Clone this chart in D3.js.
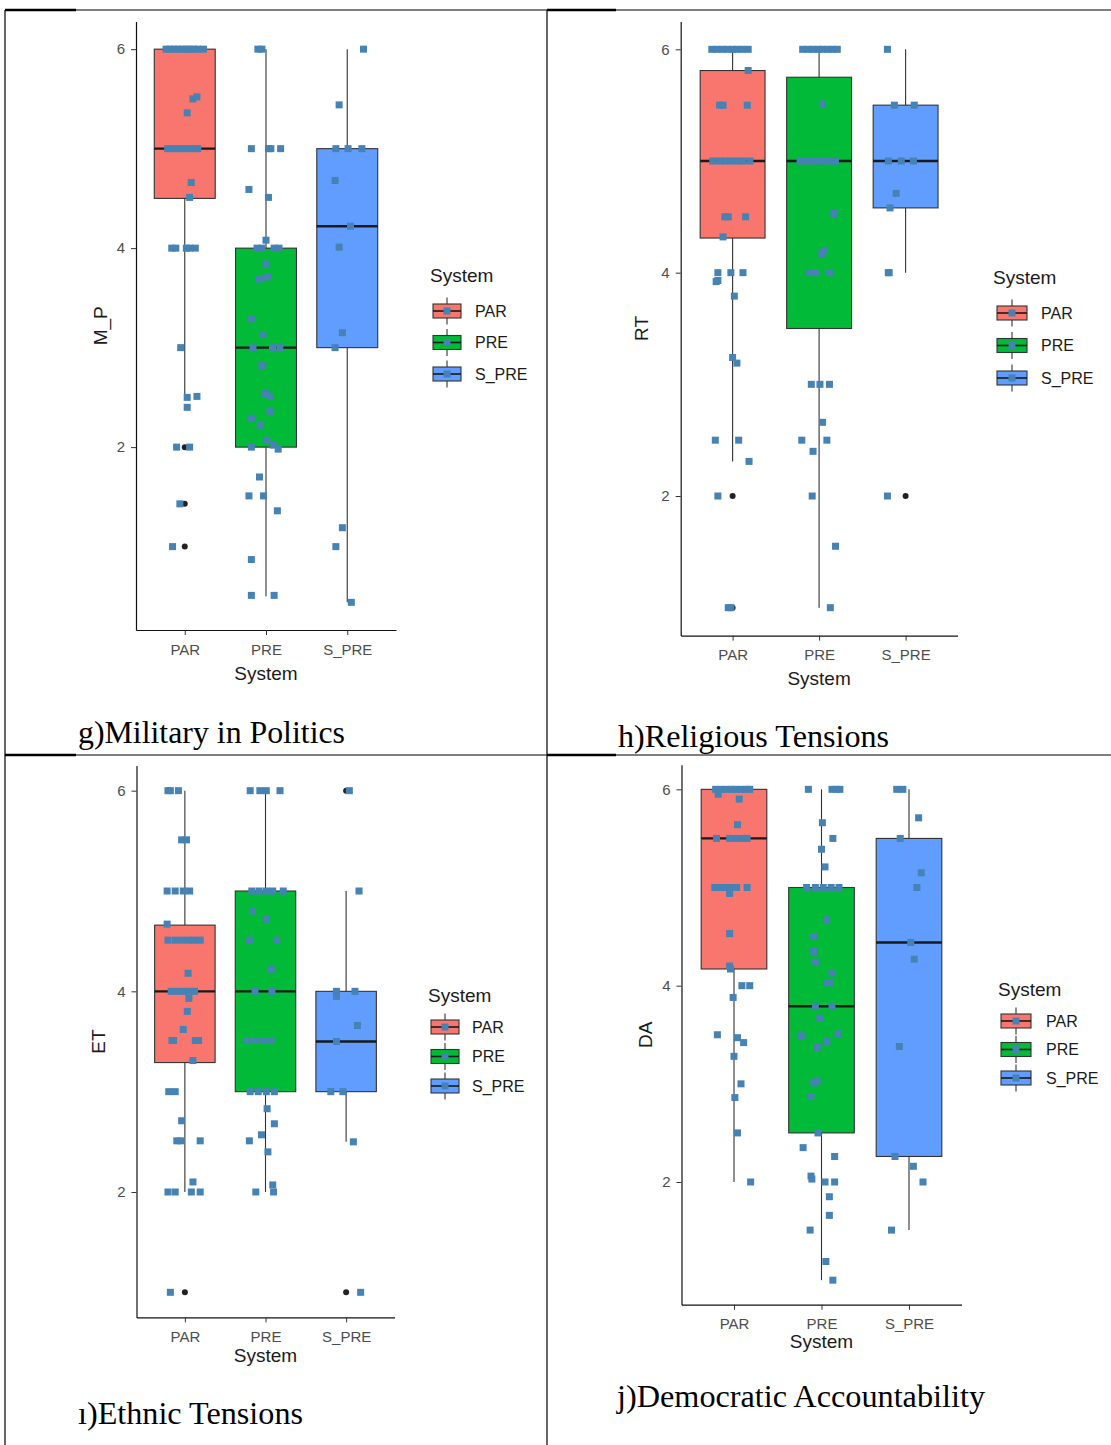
<!DOCTYPE html>
<html>
<head>
<meta charset="utf-8">
<script src="https://cdn.jsdelivr.net/npm/d3@7"></script>
<style>
  body { margin: 0; background: #fff; }
  svg text { font-family: "Liberation Sans", Arial, sans-serif; }
</style>
</head>
<body>
<div id="chart"></div>
<script>
// categories and colours of the grouping variable
var categories = ["PAR", "PRE", "S_PRE"];
var fills = ["#F8766D", "#00BA38", "#619CFF"];
var yTicks = [2, 4, 6];

// box stats per category: [lower whisker, Q1, median, Q3, upper whisker]
// jitter points per category: [value, horizontal jitter in category units]

// g) Military in Politics (M_P)
var mpStats = [[2.5, 4.5, 5, 6, 6], [0.5, 2, 3, 4, 6], [0.44, 3, 4.22, 5, 6]];
var mpOutliers = [[2, 1.43, 1], [], []];
var mpPoints = [
  [[6,-0.23],[6,-0.18],[6,-0.13],[6,-0.08],[6,-0.03],[6,0.02],[6,0.06],[6,0.11],[6,0.16],[6,0.23],
   [5.5,0.10],[5.52,0.15],[5.36,0.03],
   [5,-0.21],[5,-0.14],[5,-0.08],[5,-0.02],[5,0.04],[5,0.10],[5,0.16],
   [4.66,0.08],[4.51,0.06],
   [4,-0.16],[4,-0.11],[4,0.02],[4,0.06],[4,0.13],
   [3,-0.05],[2.5,0.03],[2.51,0.15],[2.4,0.03],[2,-0.10],[2,0.06],[1.43,-0.06],[1,-0.15]],
  [[6,-0.10],[6,-0.05],
   [5,-0.18],[5,0.03],[5,0.06],[5,0.18],
   [4.59,-0.21],[4.51,0.03],[4.08,0],
   [4,-0.11],[4,-0.05],[4,0.10],[4,0.16],
   [3.84,0],[3.69,-0.08],[3.71,0.02],[3.29,-0.18],[3.13,-0.04],
   [3,-0.16],[3,0.08],[3,0.17],[2.82,-0.05],[2.54,-0.01],[2.51,0.05],[2.36,0.05],
   [2.29,-0.18],[2.22,-0.07],[2,-0.18],[2.07,0.01],[1.98,0.15],[2.02,0.09],
   [1.70,-0.08],[1.51,-0.21],[1.51,-0.03],[1.36,0.14],[0.87,-0.18],[0.51,-0.18],[0.51,0.10]],
  [[6,0.20],[5.44,-0.10],[5,-0.14],[5,0.01],[5,0.18],[4.68,-0.15],[4.22,0.04],[4.01,-0.10],
   [3.15,-0.06],[3,-0.15],[1.19,-0.06],[1,-0.14],[0.44,0.05]]
];

// h) Religious Tensions (RT)
var rtStats = [[2.31, 4.31, 5, 5.81, 6], [1, 3.5, 5, 5.75, 6], [4, 4.58, 5, 5.5, 6]];
var rtOutliers = [[2, 1], [], [2]];
var rtPoints = [
  [[6,-0.24],[6,-0.18],[6,-0.12],[6,-0.06],[6,0],[6,0.05],[6,0.11],[6,0.18],
   [5.81,0.18],[5.5,-0.15],[5.5,-0.11],[5.5,0.17],
   [5,-0.23],[5,-0.15],[5,-0.09],[5,-0.02],[5,0.05],[5,0.12],[5,0.20],
   [4.5,-0.09],[4.5,-0.05],[4.5,0.15],[4.32,-0.11],
   [4,-0.17],[4,-0.02],[4,0.12],[3.92,-0.19],[3.93,-0.17],[3.79,0.02],
   [3.24,0],[3.19,0.05],[2.5,-0.20],[2.5,0.07],[2.31,0.19],[2,-0.17],[1,-0.05],[1,-0.02]],
  [[6,-0.19],[6,-0.13],[6,-0.07],[6,-0.01],[6,0.04],[6,0.10],[6,0.16],[6,0.21],
   [5.51,0.04],
   [5,-0.22],[5,-0.15],[5,-0.08],[5,-0.01],[5,0.06],[5,0.12],[5,0.19],
   [4.53,0.17],[4.17,0.03],[4.2,0.06],[4,-0.11],[4,-0.03],[4,0.12],
   [3,-0.09],[3,0.01],[3,0.12],[2.66,0.04],[2.5,-0.20],[2.5,0.09],[2.4,-0.07],
   [2,-0.08],[1.55,0.19],[1,0.13]],
  [[6,-0.21],[5.5,-0.13],[5.5,0.10],[5,-0.20],[5,-0.05],[5,0.09],[4.71,-0.11],[4.58,-0.18],
   [4,-0.20],[4,-0.19],[2,-0.21]]
];

// ı) Ethnic Tensions (ET)
var etStats = [[2, 3.29, 4, 4.66, 6], [2, 3, 4, 5, 6], [2.5, 3, 3.5, 4, 5]];
var etOutliers = [[1], [], [6, 1]];
var etPoints = [
  [[6,-0.21],[6,-0.18],[6,-0.08],[5.51,-0.04],[5.51,0.02],
   [5,-0.22],[5,-0.12],[5,-0.02],[5,0.06],[4.67,-0.22],
   [4.51,-0.21],[4.51,-0.12],[4.51,-0.04],[4.51,0.04],[4.51,0.11],[4.51,0.19],
   [4.18,0.04],[4,-0.17],[4,-0.10],[4,-0.02],[4,0.05],[4,0.12],
   [3.93,0.05],[3.8,0.03],[3.62,-0.02],
   [3.51,-0.16],[3.51,-0.14],[3.51,0.13],[3.51,0.17],[3.31,0.10],
   [3,-0.20],[3,-0.12],[2.71,-0.04],[2.51,-0.10],[2.51,-0.05],[2.51,0.19],
   [2.1,0.10],[2,-0.21],[2,-0.12],[2,0.08],[2,0.19],[1,-0.18]],
  [[6,-0.19],[6,-0.07],[6,0.01],[6,0.18],
   [5,-0.17],[5,-0.08],[5,0.01],[5,0.09],[5,0.22],
   [4.8,-0.16],[4.72,0.01],[4.51,-0.20],[4.51,0.14],[4.22,0.07],[4,-0.13],[4,0.08],
   [3.51,-0.23],[3.51,-0.13],[3.51,-0.03],[3.51,0.07],
   [3,-0.19],[3,-0.09],[3,0.01],[3,0.11],
   [2.83,0.02],[2.68,0.11],[2.57,-0.05],[2.51,-0.20],[2.4,0.03],[2.07,0.09],[2,-0.12],[2,0.10]],
  [[6,0.04],[5,0.16],[4,-0.12],[4,0.11],[3.95,-0.12],[3.66,0.14],[3.5,-0.12],
   [3,-0.19],[3,-0.04],[2.5,0.09],[1,0.18]]
];

// j) Democratic Accountability (DA)
var daStats = [[2, 4.17, 5.5, 6, 6], [1, 2.5, 3.79, 5, 6], [1.51, 2.26, 4.44, 5.5, 6]];
var daOutliers = [[], [], []];
var daPoints = [
  [[6,-0.21],[6,-0.15],[6,-0.09],[6,-0.03],[6,0.02],[6,0.08],[6,0.14],[6,0.18],
   [5.95,-0.18],[5.9,0.06],[5.64,0.04],
   [5.5,-0.20],[5.5,-0.05],[5.5,0.03],[5.5,0.11],[5.5,0.15],
   [5,-0.22],[5,-0.15],[5,-0.08],[5,-0.01],[5,0.03],[5,0.15],
   [4.94,-0.05],[4.53,-0.05],[4.2,-0.05],[4.17,-0.04],[4,0.09],[4,0.18],[3.88,-0.01],
   [3.5,-0.19],[3.47,0.04],[3.42,0.11],[3.28,0],[3,0.08],[2.86,0.01],[2.5,0.04],[2,0.19]],
  [[6,-0.15],[6,0.12],[6,0.17],[6,0.21],
   [5.66,0.01],[5.5,0.13],[5.39,0],[5.21,0.04],
   [5,-0.17],[5,-0.07],[5,0.02],[5,0.11],[5,0.20],
   [4.67,0.06],[4.5,-0.09],[4.35,-0.09],[4.24,-0.07],[4.13,0.12],[4.03,0.07],[4.03,0.10],
   [3.79,-0.07],[3.79,0.12],[3.67,-0.02],[3.49,-0.23],[3.51,0.19],[3.43,0.06],[3.37,-0.05],
   [3.01,-0.09],[3.03,-0.05],[2.87,-0.12],[2.5,-0.04],[2.35,-0.21],[2.26,0.15],
   [2.06,-0.12],[2.03,-0.11],[2,0.04],[2,0.15],[1.85,0.09],[1.66,0.09],[1.51,-0.13],
   [1.19,0.05],[1,0.13]],
  [[6,-0.14],[6,-0.07],[5.71,0.11],[5.5,-0.10],[5.15,0.14],[5,0.09],[4.44,0.02],[4.27,0.06],
   [3.38,-0.11],[2.26,-0.16],[2.16,0.05],[2,0.16],[1.51,-0.20]]
];

// page layout of the four panels (positions only)
var panels = [
  { yLabel: "M_P", caption: "g)Military in Politics", stats: mpStats, outliers: mpOutliers, points: mpPoints,
    left: 136, right: 396, top: 21.5, bottom: 630, yLabelX: 100, xTitleY: 680,
    legX: 430, legTitleY: 282, keyX: 433, keyW: 28, key0: 311, keyStep: 31.5, labelX: 475,
    capX: 78, capY: 743, capW: 267 },
  { yLabel: "RT", caption: "h)Religious Tensions", stats: rtStats, outliers: rtOutliers, points: rtPoints,
    left: 680.7, right: 957.5, top: 21.4, bottom: 635.6, yLabelX: 641, xTitleY: 685,
    legX: 993, legTitleY: 284, keyX: 997, keyW: 30, key0: 313, keyStep: 32.5, labelX: 1041,
    capX: 618, capY: 747, capW: 271 },
  { yLabel: "ET", caption: "\u0131)Ethnic Tensions", stats: etStats, outliers: etOutliers, points: etPoints,
    left: 136.5, right: 394.5, top: 765.6, bottom: 1317.4, yLabelX: 98, xTitleY: 1362,
    legX: 428, legTitleY: 1002, keyX: 431, keyW: 28, key0: 1027, keyStep: 29.5, labelX: 472,
    capX: 78, capY: 1424, capW: 225 },
  { yLabel: "DA", caption: "j)Democratic Accountability", stats: daStats, outliers: daOutliers, points: daPoints,
    left: 681.5, right: 961.5, top: 764.8, bottom: 1304.7, yLabelX: 645, xTitleY: 1348,
    legX: 998, legTitleY: 996, keyX: 1001, keyW: 30, key0: 1021, keyStep: 28.5, labelX: 1046,
    capX: 617, capY: 1407, capW: 368 }
];

var svgWidth = 1111;
var svgHeight = 1445;
var pointColor = "#4682B4";
var pointSize = 7;

var svg = d3.select("#chart")
  .append("svg")
  .attr("width", svgWidth)
  .attr("height", svgHeight);

// table borders of the document the figure came from
var borders = svg.append("g").attr("stroke", "#000");
borders.append("line").attr("x1", 5).attr("x2", 5).attr("y1", 10).attr("y2", svgHeight).attr("stroke-width", 1.2);
borders.append("line").attr("x1", 547).attr("x2", 547).attr("y1", 10).attr("y2", svgHeight).attr("stroke-width", 1.2);
[10, 755].forEach(function(yy) {
  borders.append("line").attr("x1", 5).attr("x2", svgWidth).attr("y1", yy).attr("y2", yy).attr("stroke-width", 1.2);
  borders.append("line").attr("x1", 5).attr("x2", 76).attr("y1", yy).attr("y2", yy).attr("stroke-width", 2.5);
  borders.append("line").attr("x1", 547).attr("x2", 616).attr("y1", yy).attr("y2", yy).attr("stroke-width", 2.5);
});

function drawPanel(p) {
  var g = svg.append("g");

  var x = d3.scaleLinear().domain([0.4, 3.6]).range([p.left, p.right]);

  var all = [];
  p.points.forEach(function(arr) { arr.forEach(function(d) { all.push(d[0]); }); });
  p.outliers.forEach(function(arr) { all = all.concat(arr); });
  p.stats.forEach(function(s) { all = all.concat(s); });
  var ext = d3.extent(all);
  var pad = (ext[1] - ext[0]) * 0.05;
  var y = d3.scaleLinear().domain([ext[0] - pad, ext[1] + pad]).range([p.bottom, p.top]);

  var bw = 0.75 * (x(1) - x(0));

  // boxplots
  categories.forEach(function(c, i) {
    var s = p.stats[i];
    var cx = x(i + 1);
    g.append("line").attr("x1", cx).attr("x2", cx).attr("y1", y(s[3])).attr("y2", y(s[4]))
      .attr("stroke", "#333").attr("stroke-width", 1.1);
    g.append("line").attr("x1", cx).attr("x2", cx).attr("y1", y(s[1])).attr("y2", y(s[0]))
      .attr("stroke", "#333").attr("stroke-width", 1.1);
    g.append("rect")
      .attr("x", cx - bw / 2).attr("width", bw)
      .attr("y", y(s[3])).attr("height", y(s[1]) - y(s[3]))
      .attr("fill", fills[i]).attr("stroke", "#333").attr("stroke-width", 1.1);
    g.append("line").attr("x1", cx - bw / 2).attr("x2", cx + bw / 2).attr("y1", y(s[2])).attr("y2", y(s[2]))
      .attr("stroke", "#1a1a1a").attr("stroke-width", 2.4);
    g.selectAll(null).data(p.outliers[i]).enter().append("circle")
      .attr("cx", cx).attr("cy", function(d) { return y(d); })
      .attr("r", 3).attr("fill", "#222");
  });

  // jittered points
  categories.forEach(function(c, i) {
    g.selectAll(null).data(p.points[i]).enter().append("rect")
      .attr("x", function(d) { return x(i + 1 + d[1]) - pointSize / 2; })
      .attr("y", function(d) { return y(d[0]) - pointSize / 2; })
      .attr("width", pointSize).attr("height", pointSize)
      .attr("fill", pointColor);
  });

  // axes
  var leftAxis = d3.axisLeft(y).tickValues(yTicks).tickFormat(d3.format("d"))
    .tickSize(5).tickPadding(6).tickSizeOuter(0);
  var bottomAxis = d3.axisBottom(x).tickValues([1, 2, 3])
    .tickFormat(function(d) { return categories[d - 1]; })
    .tickSize(5).tickPadding(9).tickSizeOuter(0);

  var ya = g.append("g").attr("transform", "translate(" + p.left + ",0)").call(leftAxis);
  var xa = g.append("g").attr("transform", "translate(0," + p.bottom + ")").call(bottomAxis);
  [ya, xa].forEach(function(a) {
    a.select(".domain").attr("stroke", "#111").attr("stroke-width", 1.2);
    a.selectAll(".tick line").attr("stroke", "#333");
    a.selectAll(".tick text").attr("fill", "#4D4D4D").style("font-size", "15px")
      .style("font-family", "Liberation Sans, Arial, sans-serif");
  });

  // axis titles
  g.append("text")
    .attr("transform", "translate(" + p.yLabelX + "," + ((p.top + p.bottom) / 2) + ") rotate(-90)")
    .attr("text-anchor", "middle").attr("dy", "0.35em")
    .style("font-size", "19px").attr("fill", "#1a1a1a")
    .text(p.yLabel);
  g.append("text")
    .attr("x", (p.left + p.right) / 2).attr("y", p.xTitleY)
    .attr("text-anchor", "middle")
    .style("font-size", "19px").attr("fill", "#1a1a1a")
    .text("System");

  // legend
  var leg = g.append("g");
  leg.append("text").attr("x", p.legX).attr("y", p.legTitleY)
    .style("font-size", "19px").attr("fill", "#1a1a1a").text("System");
  categories.forEach(function(c, i) {
    var cy = p.key0 + i * p.keyStep;
    var kx = p.keyX + p.keyW / 2;
    leg.append("line").attr("x1", kx).attr("x2", kx).attr("y1", cy - 13.5).attr("y2", cy + 13.5)
      .attr("stroke", "#333").attr("stroke-width", 1.1);
    leg.append("rect").attr("x", p.keyX).attr("y", cy - 7).attr("width", p.keyW).attr("height", 14)
      .attr("fill", fills[i]).attr("stroke", "#333").attr("stroke-width", 1.1);
    leg.append("line").attr("x1", p.keyX).attr("x2", p.keyX + p.keyW).attr("y1", cy).attr("y2", cy)
      .attr("stroke", "#1a1a1a").attr("stroke-width", 1.6);
    leg.append("rect").attr("x", kx - pointSize / 2).attr("y", cy - pointSize / 2)
      .attr("width", pointSize).attr("height", pointSize).attr("fill", pointColor);
    leg.append("text").attr("x", p.labelX).attr("y", cy + 5.5)
      .style("font-size", "16px").attr("fill", "#1a1a1a").text(c);
  });

  // caption below the chart
  g.append("text")
    .attr("x", p.capX).attr("y", p.capY)
    .attr("textLength", p.capW).attr("lengthAdjust", "spacingAndGlyphs")
    .style("font-family", "Liberation Serif, Times New Roman, serif")
    .style("font-size", "32px").attr("fill", "#000")
    .text(p.caption);
}

panels.forEach(drawPanel);
</script>
</body>
</html>
